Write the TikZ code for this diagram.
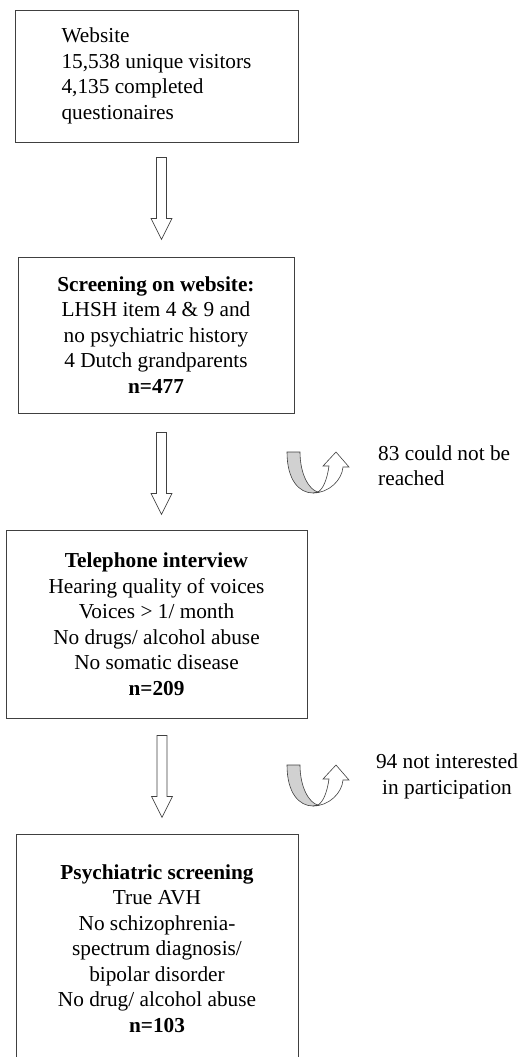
\documentclass[tikz,border=0pt]{standalone}
\usepackage{fontspec}
\setmainfont{Liberation Serif}
\usetikzlibrary{positioning,calc}
\tikzset{box/.style={draw=black!75,line width=0.8pt,inner sep=0pt,align=center,font=\fontsize{21.3}{25.5}\selectfont}}
\tikzset{note/.style={inner sep=0pt,font=\fontsize{21.3}{25.5}\selectfont}}
\tikzset{hollowdown/.pic={\draw[black!75,line width=0.7pt,fill=white] (-5,0) -- (5,0) -- (5,61) -- (10.5,61) -- (0,82) -- (-10.5,61) -- (-5,61) -- cycle;}}
\tikzset{uturn/.pic={
    \draw[black!75,line width=0.6pt,fill=black!18] (0,0) -- (13,0) .. controls (13,22) and (22,38) .. (31,40) -- (26,41) .. controls (12,41) and (0,28) .. (0,0) -- cycle;
    \draw[black!75,line width=0.6pt,fill=white] (26,41) .. controls (42,41) and (55,28) .. (56,15) -- (62,15) -- (49,0) -- (36,14) -- (42,14) .. controls (40,28) and (36,37) .. (31,40) -- cycle;}}

\begin{document}
\begin{tikzpicture}[x=1pt,y=-1pt]
    \clip (0,0) rectangle (527,1057);
    \node[box,align=left,minimum width=283,minimum height=132] (web) at (156.5,76) {Website\\15,538 unique visitors\\4,135 completed\\questionaires};
    \node[box,minimum width=276,minimum height=156] (scr) at (156,335) {\textbf{Screening on website:}\\LHSH item 4 \& 9 and\\no psychiatric history\\4 Dutch grandparents\\\textbf{n=477}};
    \node[box,minimum width=301,minimum height=188] (tel) at (156.5,624) {\textbf{Telephone interview}\\Hearing quality of voices\\Voices > 1/ month\\No drugs/ alcohol abuse\\No somatic disease\\\textbf{n=209}};
    \node[box,minimum width=282,minimum height=229] (psy) at (157,948.5) {\textbf{Psychiatric screening}\\True AVH\\No schizophrenia-\\spectrum diagnosis/\\bipolar disorder\\No drug/ alcohol abuse\\\textbf{n=103}};

    \node[note,anchor=west,align=left] (lost1) at (378,465.5) {83 could not be\\reached};
    \node[note,align=center] (lost2) at (447,776.5) {94 not interested\\in participation};

    \pic at ($(web.south)+(5,15)$) {hollowdown};
    \pic at ($(scr.south)+(5.5,19)$) {hollowdown};
    \pic at ($(tel.south)+(5.5,17)$) {hollowdown};

    \pic at (287,452) {uturn};
    \pic at (287,765) {uturn};
\end{tikzpicture}
\end{document}
